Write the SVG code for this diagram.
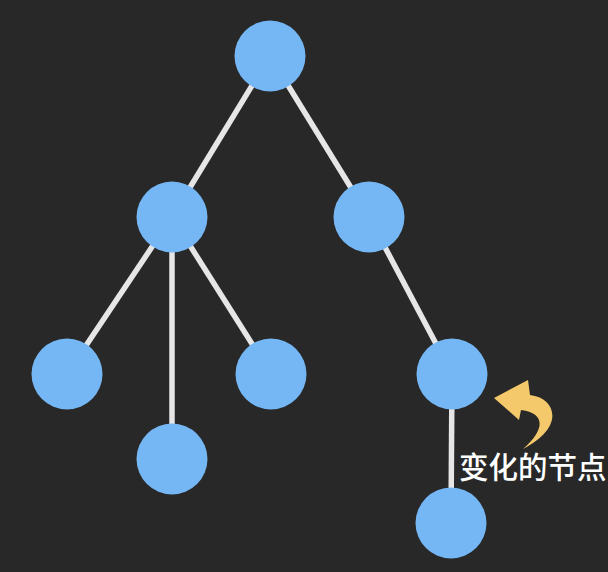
<svg xmlns="http://www.w3.org/2000/svg" width="608" height="572" viewBox="0 0 608 572">
<style>
.node{fill:#75b6f4}
.edge{stroke:#e6e6e6;stroke-width:5.5;stroke-linecap:butt}
.label{font-family:"Noto Sans CJK SC","Liberation Sans",sans-serif;font-size:29.5px;fill:#ffffff;font-weight:500}
</style>
<rect width="608" height="572" fill="#282828"/>
<g id="connectors">
<line class="edge" x1="270" y1="56" x2="172" y2="217"/>
<line class="edge" x1="270" y1="56" x2="369" y2="217"/>
<line class="edge" x1="172" y1="217" x2="67" y2="374"/>
<line class="edge" x1="172" y1="217" x2="172" y2="459"/>
<line class="edge" x1="172" y1="217" x2="271" y2="374"/>
<line class="edge" x1="369" y1="217" x2="452" y2="374"/>
<line class="edge" x1="452" y1="374" x2="451" y2="523"/>
</g>
<g id="n-root"><circle class="node" cx="270" cy="56" r="35.5"/></g>
<g id="n-left"><circle class="node" cx="172" cy="217" r="35.5"/></g>
<g id="n-right"><circle class="node" cx="369" cy="217" r="35.5"/></g>
<g id="n-ll"><circle class="node" cx="67" cy="374" r="35.5"/></g>
<g id="n-lm"><circle class="node" cx="172" cy="459" r="35.5"/></g>
<g id="n-lr"><circle class="node" cx="271" cy="374" r="35.5"/></g>
<g id="n-rr"><circle class="node" cx="452" cy="374" r="35.5"/></g>
<g id="n-bottom"><circle class="node" cx="451" cy="523" r="35.5"/></g>
<g id="annotation">
<path d="M494,398 L528,380 L530,395 C556,398 566,427 523,449 C545,430 546,413 521,410 L519,420 Z" fill="#f3c96b"/>
<text class="label" x="459" y="478">变化的节点</text>
</g>
</svg>
